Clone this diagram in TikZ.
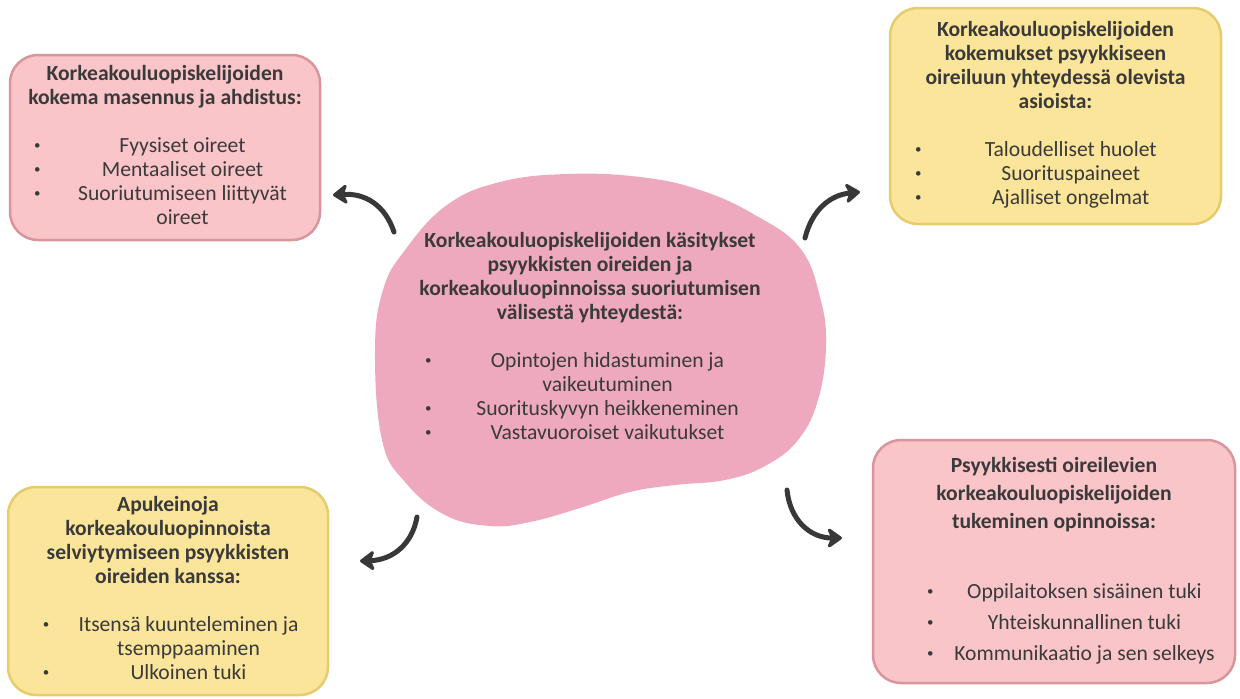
\documentclass[tikz,border=0pt]{standalone}
\usepackage{fontspec}
\setmainfont{Carlito}
\usepackage{array}
\usetikzlibrary{arrows.meta}

\definecolor{punainen}{HTML}{F9C5C9}
\definecolor{punainenreuna}{HTML}{D9959A}
\definecolor{keltainen}{HTML}{FAE59A}
\definecolor{keltainenreuna}{HTML}{E5CC6C}
\definecolor{mykky}{HTML}{EFA9BE}
\definecolor{teksti}{HTML}{3A3A3A}
\definecolor{nuolivari}{HTML}{383838}

\newcolumntype{C}[1]{>{\centering\arraybackslash}p{#1}}
\newcommand{\koko}{\fontsize{21.6}{24}\selectfont}
% pienempi luettelomerkki
\newcommand{\pallo}{\raisebox{0.15em}{\scalebox{0.6}{\textbullet}}}

\begin{document}
\begin{tikzpicture}[x=1pt,y=-1pt,font=\koko,text=teksti,
  laatikko/.style={line width=2.5pt, rounded corners=28pt, inner sep=0pt},
  punalaatikko/.style={laatikko, fill=punainen, draw=punainenreuna},
  keltalaatikko/.style={laatikko, fill=keltainen, draw=keltainenreuna},
  nuoli/.style={draw=nuolivari, line width=5pt, line cap=round,
    -{Stealth[round,length=17pt,width=24pt,inset=5pt]}}]

\useasboundingbox (0,0) rectangle (1240,699);

% keskimmainen mykky
\fill[mykky] plot[smooth cycle, tension=0.7] coordinates {
  (375,350) (383,290) (405,250) (447,205) (500,182) (567,174) (640,177)
  (700,190) (755,215) (800,248) (820,297) (826,345) (818,400) (798,440)
  (765,466) (725,480) (675,485) (630,492) (580,508) (530,522) (490,526)
  (445,515) (405,482) (382,440)};

\node (kasitykset) at (590,339) {%
\begin{tabular}{@{}p{15pt}@{}p{20pt}@{}C{325pt}@{}}
\multicolumn{3}{@{}c@{}}{\bfseries Korkeakouluopiskelijoiden käsitykset}\\
\multicolumn{3}{@{}c@{}}{\bfseries psyykkisten oireiden ja}\\
\multicolumn{3}{@{}c@{}}{\bfseries korkeakouluopinnoissa suoriutumisen}\\
\multicolumn{3}{@{}c@{}}{\bfseries välisestä yhteydestä:}\\
\\
& \pallo & Opintojen hidastuminen ja\\
& & vaikeutuminen\\
& \pallo & Suorituskyvyn heikkeneminen\\
& \pallo & Vastavuoroiset vaikutukset
\end{tabular}};

% vasen ylä
\node[punalaatikko, minimum width=310pt, minimum height=185pt]
  (masennus) at (165,147.5) {%
\begin{tabular}{@{}p{14pt}@{}p{21pt}@{}C{255pt}@{}}
\multicolumn{3}{@{}c@{}}{\bfseries Korkeakouluopiskelijoiden}\\
\multicolumn{3}{@{}c@{}}{\bfseries kokema masennus ja ahdistus:}\\
\\
& \pallo & Fyysiset oireet\\
& \pallo & Mentaaliset oireet\\
& \pallo & Suoriutumiseen liittyvät\\
& & oireet
\end{tabular}};

% oikea ylä
\node[keltalaatikko, minimum width=331pt, minimum height=216pt]
  (kokemukset) at (1055.5,116) {%
\begin{tabular}{@{}p{9.5pt}@{}p{21pt}@{}C{269.5pt}@{}}
\multicolumn{3}{@{}c@{}}{\bfseries Korkeakouluopiskelijoiden}\\
\multicolumn{3}{@{}c@{}}{\bfseries kokemukset psyykkiseen}\\
\multicolumn{3}{@{}c@{}}{\bfseries oireiluun yhteydessä olevista}\\
\multicolumn{3}{@{}c@{}}{\bfseries asioista:}\\
\\
& \pallo & Taloudelliset huolet\\
& \pallo & Suorituspaineet\\
& \pallo & Ajalliset ongelmat
\end{tabular}};

% vasen ala
\node[keltalaatikko, minimum width=320pt, minimum height=208pt]
  (apukeinot) at (168,591) {%
\begin{tabular}{@{}p{20pt}@{}p{21pt}@{}C{249pt}@{}}
\multicolumn{3}{@{}c@{}}{\bfseries Apukeinoja}\\
\multicolumn{3}{@{}c@{}}{\bfseries korkeakouluopinnoista}\\
\multicolumn{3}{@{}c@{}}{\bfseries selviytymiseen psyykkisten}\\
\multicolumn{3}{@{}c@{}}{\bfseries oireiden kanssa:}\\
\\
& \pallo & Itsensä kuunteleminen ja\\
& & tsemppaaminen\\
& \pallo & Ulkoinen tuki
\end{tabular}};

% oikea ala
\node[punalaatikko, minimum width=362pt, minimum height=243pt]
  (tukeminen) at (1054,561.5) {%
\begin{tabular}{@{}p{43pt}@{}p{18pt}@{}C{279pt}@{}}
\multicolumn{3}{@{}c@{}}{\bfseries Psyykkisesti oireilevien}\\[4pt]
\multicolumn{3}{@{}c@{}}{\bfseries korkeakouluopiskelijoiden}\\[4pt]
\multicolumn{3}{@{}c@{}}{\bfseries tukeminen opinnoissa:}\\[46pt]
& \pallo & Oppilaitoksen sisäinen tuki\\[7pt]
& \pallo & Yhteiskunnallinen tuki\\[7pt]
& \pallo & Kommunikaatio ja sen selkeys
\end{tabular}};

% nuolet
\coordinate (n1a) at (394,232);
\coordinate (n1b) at (333,195);
\coordinate (n2a) at (805,238);
\coordinate (n2b) at (860,192);
\coordinate (n3a) at (417,517);
\coordinate (n3b) at (360,561);
\coordinate (n4a) at (787,490);
\coordinate (n4b) at (842,538);

\draw[nuoli] (n1a) .. controls (385,205) and (365,193) .. (n1b);
\draw[nuoli] (n2a) .. controls (812,210) and (830,195) .. (n2b);
\draw[nuoli] (n3a) .. controls (412,545) and (392,560) .. (n3b);
\draw[nuoli] (n4a) .. controls (790,520) and (810,538) .. (n4b);

\end{tikzpicture}
\end{document}
